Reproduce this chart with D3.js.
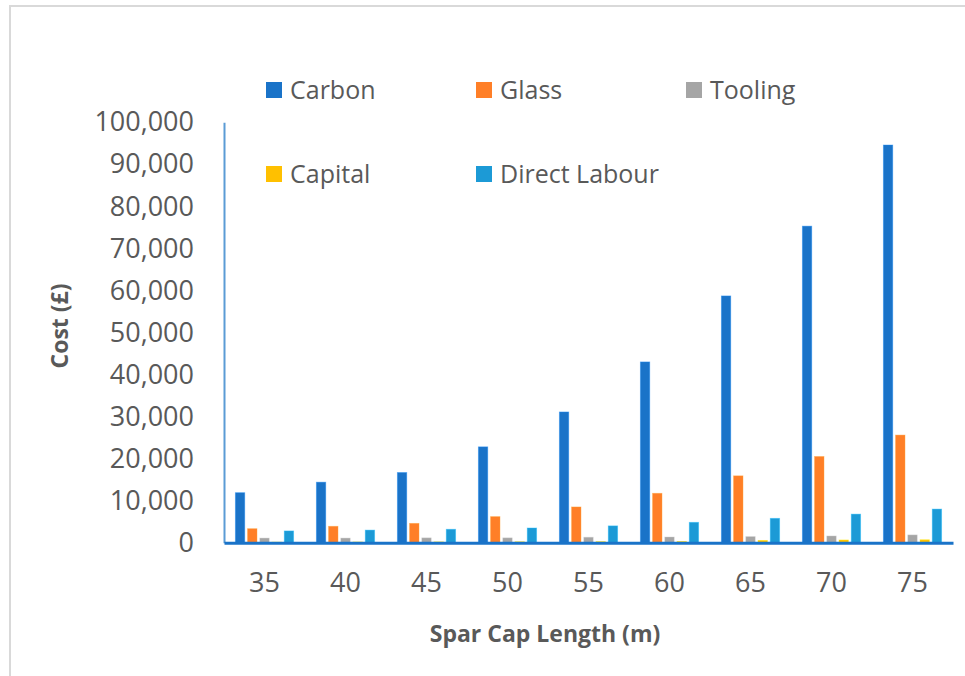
<!DOCTYPE html>
<html>
<head>
<meta charset="utf-8">
<script src="https://cdn.jsdelivr.net/npm/d3@7"></script>
<style>
  html, body { margin: 0; padding: 0; background: #fff; }
  svg { display: block; }
</style>
</head>
<body>
<svg id="chart" width="965" height="676"></svg>
<script>
// Spar cap cost breakdown by length
const lengths = ["35", "40", "45", "50", "55", "60", "65", "70", "75"];
const seriesNames = ["Carbon", "Glass", "Tooling", "Capital", "Direct Labour"];
const carbon = [11900, 14400, 16700, 22800, 31100, 43000, 58700, 75300, 94600];
const glass = [3330, 3900, 4600, 6200, 8500, 11750, 15900, 20500, 25600];
const tooling = [1100, 1100, 1150, 1150, 1300, 1350, 1450, 1600, 1850];
const capital = [150, 180, 200, 230, 260, 300, 550, 650, 700];
const directLabour = [2800, 3000, 3200, 3500, 4000, 4850, 5800, 6800, 8000];
const yTicks = [0, 10000, 20000, 30000, 40000, 50000, 60000, 70000, 80000, 90000, 100000];

const seriesValues = [carbon, glass, tooling, capital, directLabour];
const colors = ["#1A73C8", "#FF7F27", "#A5A5A5", "#FFC000", "#1C9AD6"];

const svg = d3.select("#chart");
const textColor = "#595959";
const font = "'Open Sans', sans-serif";

// outer chart frame
svg.append("rect")
  .attr("x", 10).attr("y", 6)
  .attr("width", 1000).attr("height", 700)
  .attr("fill", "none")
  .attr("stroke", "#d9d9d9")
  .attr("stroke-width", 2);

const plot = { left: 224, right: 953, top: 122.3, bottom: 542.7 };

const x0 = d3.scaleBand().domain(lengths).range([plot.left, plot.right]).padding(0);
const groupWidth = 58.3;
const x1 = d3.scaleBand().domain(seriesNames)
  .range([(x0.bandwidth() - groupWidth) / 2, (x0.bandwidth() + groupWidth) / 2])
  .paddingInner(0.23).paddingOuter(0);
const y = d3.scaleLinear().domain([0, 100000]).range([plot.bottom, plot.top]);
const color = d3.scaleOrdinal().domain(seriesNames).range(colors);

// bars
const rows = lengths.map((len, i) => ({
  len,
  vals: seriesNames.map((s, k) => ({ s, v: seriesValues[k][i] }))
}));

const groups = svg.append("g").selectAll("g")
  .data(rows).join("g")
  .attr("transform", d => `translate(${x0(d.len)},0)`);

groups.selectAll("rect")
  .data(d => d.vals).join("rect")
  .attr("x", d => x1(d.s))
  .attr("y", d => y(d.v))
  .attr("width", x1.bandwidth())
  .attr("height", d => y(0) - y(d.v))
  .attr("fill", d => color(d.s))
  .attr("stroke", d => d3.color(color(d.s)).brighter(0.6))
  .attr("stroke-opacity", 0.5)
  .attr("stroke-width", 0.8);

// y axis
const yAxis = d3.axisLeft(y).tickValues(yTicks).tickSize(0).tickPadding(30)
  .tickFormat(d3.format(","));
const yg = svg.append("g").attr("transform", `translate(${plot.left},0)`).call(yAxis);
yg.select(".domain").attr("stroke", "#5B9BD5").attr("stroke-width", 2);
yg.selectAll("text")
  .attr("fill", textColor)
  .style("font-family", font)
  .style("font-size", "27px");

// x axis
const xAxis = d3.axisBottom(x0).tickSize(0).tickPadding(30.5);
const xg = svg.append("g").attr("transform", `translate(0,${plot.bottom})`).call(xAxis);
xg.select(".domain").attr("stroke", "#1A73C8").attr("stroke-width", 3);
xg.selectAll("text")
  .attr("fill", textColor)
  .style("font-family", font)
  .style("font-size", "27px");

// axis titles
svg.append("text")
  .attr("x", 545).attr("y", 642)
  .attr("text-anchor", "middle")
  .attr("fill", textColor)
  .style("font-family", font)
  .style("font-weight", "bold")
  .style("font-size", "23px")
  .text("Spar Cap Length (m)");

svg.append("text")
  .attr("transform", "translate(68,326) rotate(-90)")
  .attr("text-anchor", "middle")
  .attr("fill", textColor)
  .style("font-family", font)
  .style("font-weight", "bold")
  .style("font-size", "23px")
  .text("Cost (£)");

// legend
const legendPos = [
  { x: 266, y: 82 }, { x: 476, y: 82 }, { x: 686, y: 82 },
  { x: 266, y: 166 }, { x: 476, y: 166 }
];
const legend = svg.append("g").selectAll("g")
  .data(seriesNames).join("g")
  .attr("transform", (d, i) => `translate(${legendPos[i].x},${legendPos[i].y})`);
legend.append("rect")
  .attr("width", 16).attr("height", 16)
  .attr("fill", d => color(d));
legend.append("text")
  .attr("x", 24).attr("y", 17)
  .attr("fill", textColor)
  .style("font-family", font)
  .style("font-size", "25px")
  .text(d => d);
</script>
</body>
</html>
